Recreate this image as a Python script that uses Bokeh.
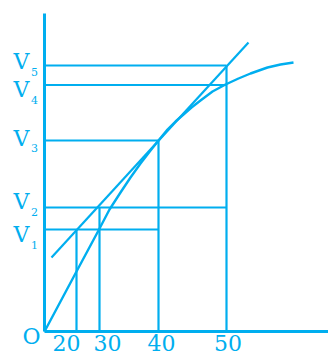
from bokeh.plotting import figure
from bokeh.models import Range1d, ColumnDataSource
from bokeh.core.properties import value
from bokeh.embed import file_html
from bokeh.resources import INLINE

# ---- data (units: drawing units measured from origin O) ----
x_tick_labels = ["20", "30", "40", "50"]
x_tick_pos = [32, 55, 114, 182]

v_subscripts = ["1", "2", "3", "4", "5"]
v_levels = [102, 124, 191, 246.5, 266]
v_line_end = [114, 182, 114, 182, 182]        # horizontal guide ends (x)
x_line_top = [102, 124, 191, 266]             # vertical guide tops (y)

curve_x = [0, 32, 54, 65, 76, 86, 96, 106, 114, 123, 131, 139, 147, 156, 168, 181, 194, 206, 223, 236, 249]
curve_y = [0, 60, 101, 122, 139, 154, 168, 181, 191, 202, 210, 217, 224, 231, 240, 247, 253, 258, 264, 267, 269]

line_x = [7, 204]
line_y = [74, 289]

axis_x_end = 284
axis_y_end = 318

# ---- layout / style ----
C = "#00AEEF"
FONT = value("DejaVu Serif")
x_label_dx = [-10, 8, 3, 1.5]
v_label_dy = [-5, 6, 2.5, -4.5, 4]

p = figure(width=328, height=356, output_backend="svg", toolbar_location=None,
           x_range=Range1d(-44, 284), y_range=Range1d(-25, 331),
           min_border=0)
p.axis.visible = False
p.grid.visible = False
p.outline_line_color = None
p.background_fill_color = "white"

# axes
p.segment(x0=[0, 0], y0=[0, 0], x1=[axis_x_end, 0], y1=[0, axis_y_end],
          line_color=C, line_width=3)

# horizontal guides
p.segment(x0=[0] * len(v_levels), y0=v_levels, x1=v_line_end, y1=v_levels,
          line_color=C, line_width=2.2)
# vertical guides
p.segment(x0=x_tick_pos, y0=[0] * len(x_tick_pos), x1=x_tick_pos, y1=x_line_top,
          line_color=C, line_width=2.2)

# straight line and curve
p.line(line_x, line_y, line_color=C, line_width=2.2)
p.line(curve_x, curve_y, line_color=C, line_width=2.4, line_join="round")

# x tick labels
xs = ColumnDataSource(dict(x=[x + d for x, d in zip(x_tick_pos, x_label_dx)],
                           y=[-11.5] * len(x_tick_pos), t=x_tick_labels))
p.text(x="x", y="y", text="t", source=xs, text_font=FONT, text_font_size="22px",
       text_color=C, text_align="center", text_baseline="middle")

# origin label
p.text(x=[-13], y=[-5], text=["O"], text_font=FONT, text_font_size="22px",
       text_color=C, text_align="center", text_baseline="middle")

# V labels with subscripts
vy = [l + d for l, d in zip(v_levels, v_label_dy)]
p.text(x=[-23] * len(vy), y=vy, text=["V"] * len(vy), text_font=FONT,
       text_font_size="22px", text_color=C, text_align="center", text_baseline="middle")
p.text(x=[-10] * len(vy), y=[v - 10 for v in vy], text=v_subscripts, text_font=FONT,
       text_font_size="11px", text_color=C, text_align="center", text_baseline="middle")

open("out.html", "w").write(file_html(p, INLINE))
